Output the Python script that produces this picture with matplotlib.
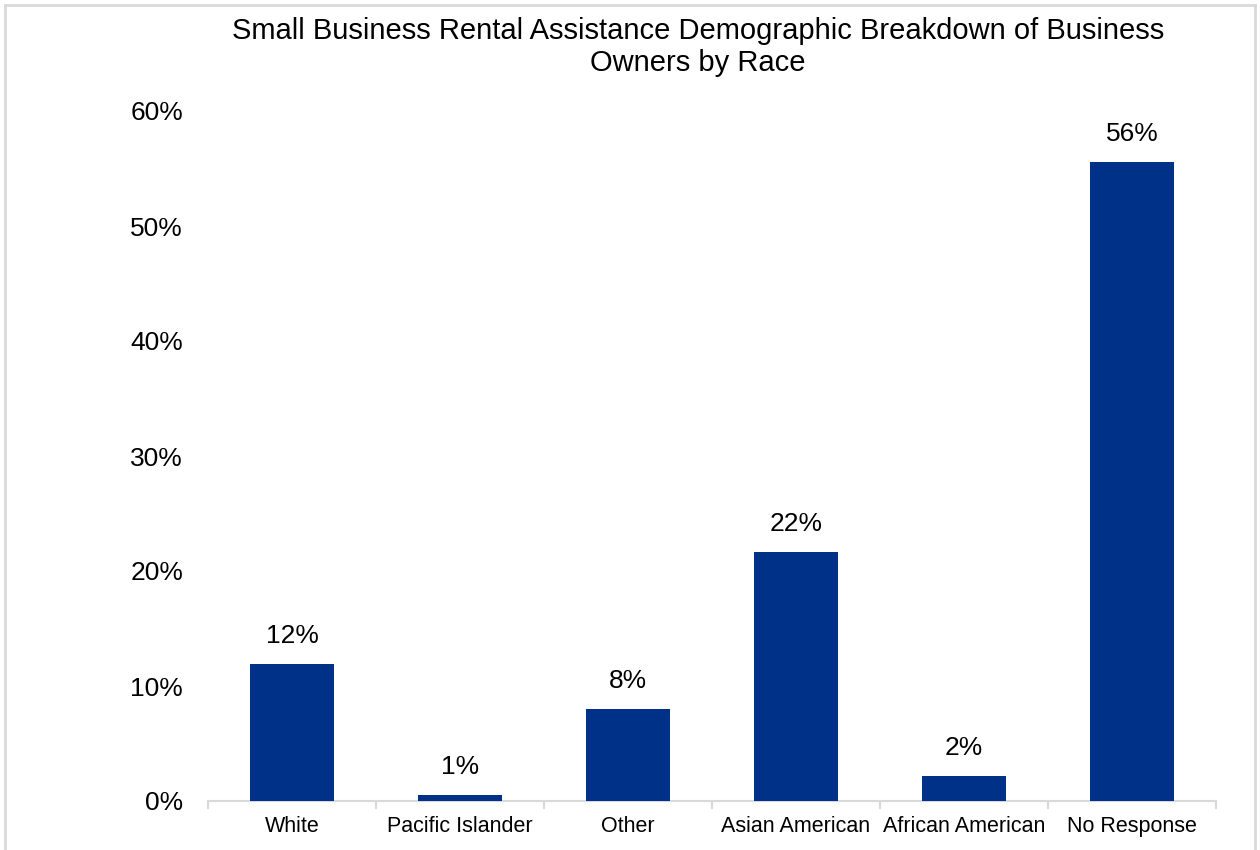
import matplotlib.pyplot as plt
from matplotlib.lines import Line2D

categories = ["White", "Pacific Islander", "Other", "Asian American",
              "African American", "No Response"]
shares = [0.119, 0.005, 0.080, 0.2165, 0.022, 0.556]
bar_labels = ["12%", "1%", "8%", "22%", "2%", "56%"]
y_ticks = [0, 0.1, 0.2, 0.3, 0.4, 0.5, 0.6]
y_tick_labels = ["0%", "10%", "20%", "30%", "40%", "50%", "60%"]
title = "Small Business Rental Assistance Demographic Breakdown of Business\nOwners by Race"

plt.rcParams['font.family'] = ['Liberation Sans', 'DejaVu Sans']

fig = plt.figure(figsize=(12.6, 8.5), dpi=100)
ax = fig.add_axes([208 / 1260, 1 - 801 / 850, 1008 / 1260, 690 / 850])

x = list(range(len(categories)))
ax.bar(x, shares, width=0.5, color="#003189", zorder=3)
for xi, v, lab in zip(x, shares, bar_labels):
    ax.annotate(lab, (xi, v), xytext=(0, 20), textcoords="offset points",
                ha="center", va="center", fontsize=19)

ax.set_xlim(-0.5, len(categories) - 0.5)
ax.set_ylim(0, 0.6)
ax.set_yticks(y_ticks)
ax.set_yticklabels(y_tick_labels, fontsize=19)
ax.set_xticks(x)
ax.set_xticklabels(categories, fontsize=15.5)
ax.tick_params(axis="y", length=0, pad=18)
ax.tick_params(axis="x", length=0, pad=11)

# category boundary ticks
ax.set_xticks([i - 0.5 for i in range(len(categories) + 1)], minor=True)
ax.tick_params(axis="x", which="minor", length=6, color="#d9d9d9", width=1.5)

for s in ["top", "right", "left"]:
    ax.spines[s].set_visible(False)
ax.spines["bottom"].set_color("#d9d9d9")
ax.spines["bottom"].set_linewidth(1.5)

fig.text(698 / 1260, 1 - 47 / 850, title, ha="center", va="center",
         fontsize=21, linespacing=1.2)

# chart frame
frame_kw = dict(color="#d9d9d9", linewidth=2, transform=fig.transFigure)
fig.add_artist(Line2D([5 / 1260, 5 / 1260], [0, 1 - 5 / 850], **frame_kw))
fig.add_artist(Line2D([5 / 1260, 1255 / 1260], [1 - 5 / 850, 1 - 5 / 850], **frame_kw))
fig.add_artist(Line2D([1255 / 1260, 1255 / 1260], [0, 1 - 5 / 850], **frame_kw))

fig.savefig("out.png", dpi=100)
